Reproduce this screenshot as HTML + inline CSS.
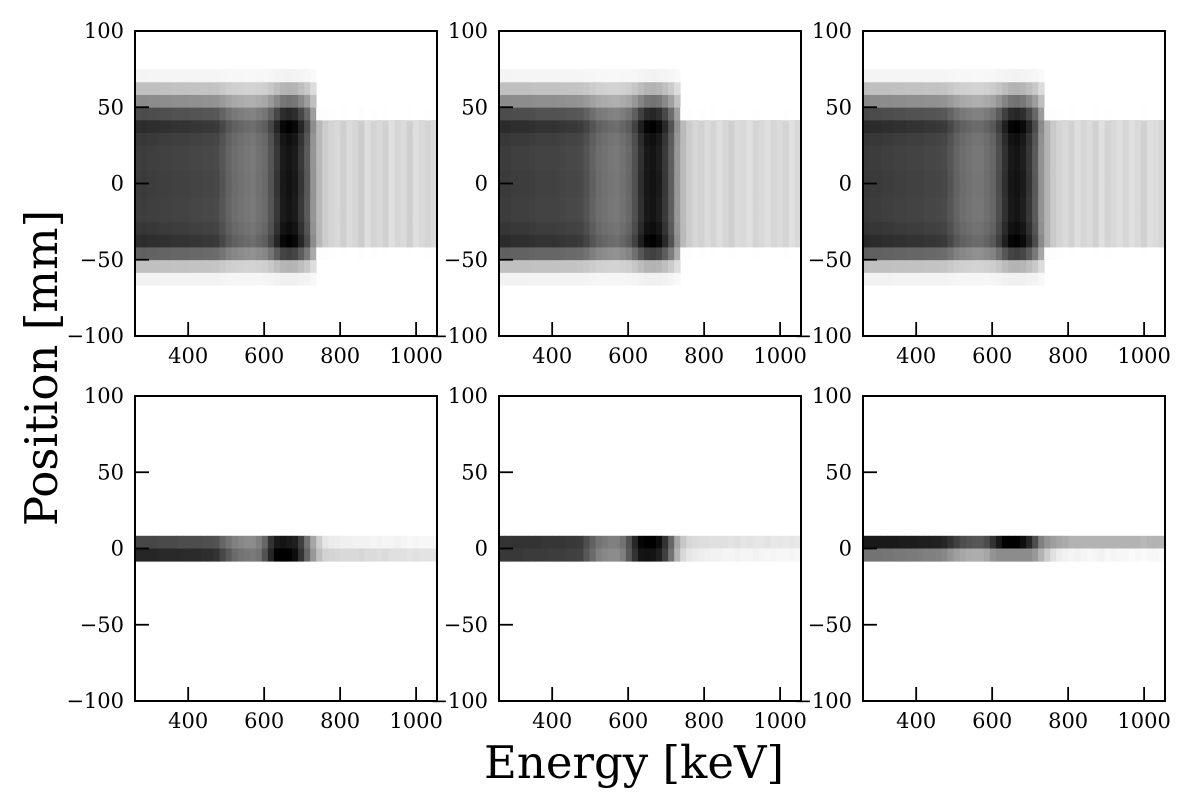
<!DOCTYPE html>
<html><head><meta charset="utf-8"><style>
body{margin:0;background:#fff;}
svg{display:block;font-family:"DejaVu Serif","Liberation Serif",serif;}
</style></head><body>
<svg id="fig" width="1196" height="809" viewBox="0 0 1196 809">
<text x="634" y="778" font-size="45" text-anchor="middle">Energy [keV]</text>
<text transform="translate(57,368) rotate(-90)" font-size="45" text-anchor="middle">Position [mm]</text>
</svg>
<script>
const xTicks=[400,600,800,1000];
const yTicks=[-100,-50,0,50,100];
const E0=260,E1=1055,NB=50;
// top-row energy spectra (darkness 0..1 per energy bin)
const specTop1=[0.82,0.83,0.82,0.82,0.81,0.81,0.8,0.8,0.8,0.79,0.79,0.78,0.78,0.77,0.72,0.66,0.62,0.6,0.58,0.57,0.6,0.63,0.72,0.85,0.97,1.0,0.97,0.85,0.7,0.45,0.28,0.2,0.17,0.15,0.19,0.14,0.16,0.2,0.13,0.17,0.15,0.18,0.12,0.16,0.14,0.19,0.13,0.15,0.17,0.14];
const specTop2=[0.83,0.83,0.82,0.82,0.82,0.81,0.8,0.8,0.8,0.8,0.79,0.78,0.78,0.77,0.73,0.67,0.62,0.6,0.58,0.57,0.6,0.64,0.74,0.88,0.98,1.0,0.96,0.84,0.68,0.44,0.27,0.2,0.16,0.18,0.14,0.17,0.13,0.16,0.19,0.14,0.15,0.12,0.17,0.15,0.13,0.16,0.14,0.17,0.12,0.15];
const specTop3=[0.84,0.83,0.83,0.82,0.82,0.81,0.81,0.8,0.8,0.8,0.79,0.79,0.78,0.77,0.72,0.66,0.62,0.6,0.58,0.58,0.61,0.65,0.75,0.88,0.98,1.0,0.96,0.85,0.7,0.46,0.3,0.21,0.17,0.15,0.18,0.13,0.16,0.14,0.18,0.12,0.17,0.15,0.13,0.16,0.12,0.15,0.18,0.13,0.14,0.16];
// top-row position profiles, 24 bins from -100 to 100 (bottom to top)
const profLow=[0,0,0,0,0.06,0.3,0.75,1.0,0.95,0.92,0.92,0.93,0.93,0.92,0.92,0.94,1.0,0.85,0.55,0.3,0.05,0,0,0];
const profHigh=[0,0,0,0,0,0,0.03,1,1,1,1,1,1,1,1,1,1,0.03,0,0,0,0,0,0];
// bottom-row spectra: upper row (0..8.3 mm) and lower row (-8.3..0 mm)
const botUp1=[0.72,0.72,0.72,0.72,0.71,0.71,0.71,0.7,0.7,0.7,0.7,0.69,0.69,0.68,0.6,0.55,0.5,0.47,0.45,0.45,0.5,0.6,0.8,0.9,0.92,0.9,0.88,0.75,0.55,0.35,0.2,0.1,0.08,0.07,0.06,0.06,0.05,0.05,0.05,0.04,0.05,0.04,0.04,0.05,0.04,0.03,0.04,0.03,0.03,0.03];
const botLo1=[0.85,0.85,0.85,0.85,0.84,0.84,0.84,0.84,0.83,0.83,0.83,0.82,0.82,0.8,0.72,0.65,0.58,0.55,0.53,0.52,0.55,0.68,0.85,1.0,1.0,1.0,0.95,0.8,0.6,0.4,0.25,0.18,0.17,0.16,0.15,0.15,0.15,0.16,0.14,0.14,0.13,0.14,0.12,0.12,0.12,0.11,0.12,0.11,0.11,0.11];
const botUp2=[0.8,0.8,0.8,0.8,0.8,0.8,0.8,0.79,0.79,0.79,0.79,0.78,0.78,0.77,0.7,0.62,0.55,0.52,0.5,0.5,0.55,0.68,0.85,0.98,1.0,1.0,0.95,0.8,0.6,0.35,0.22,0.16,0.14,0.13,0.13,0.12,0.12,0.12,0.11,0.12,0.1,0.11,0.1,0.1,0.11,0.09,0.1,0.09,0.1,0.09];
const botLo2=[0.78,0.78,0.78,0.78,0.77,0.77,0.77,0.77,0.76,0.76,0.76,0.75,0.75,0.74,0.66,0.58,0.5,0.47,0.45,0.45,0.5,0.65,0.8,0.92,0.93,0.92,0.88,0.75,0.55,0.3,0.15,0.1,0.08,0.07,0.06,0.05,0.05,0.04,0.04,0.05,0.04,0.04,0.05,0.04,0.03,0.04,0.03,0.03,0.04,0.03];
const botUp3=[0.9,0.9,0.9,0.9,0.9,0.9,0.89,0.89,0.89,0.88,0.88,0.88,0.87,0.85,0.8,0.75,0.7,0.68,0.66,0.66,0.7,0.8,0.9,1.0,1.0,1.0,0.95,0.85,0.7,0.5,0.42,0.38,0.35,0.33,0.3,0.3,0.3,0.3,0.3,0.3,0.3,0.3,0.3,0.3,0.3,0.3,0.28,0.3,0.3,0.3];
const botLo3=[0.55,0.55,0.55,0.54,0.54,0.53,0.53,0.52,0.52,0.51,0.5,0.5,0.49,0.47,0.42,0.38,0.35,0.33,0.32,0.32,0.35,0.42,0.45,0.45,0.45,0.45,0.45,0.45,0.4,0.3,0.2,0.12,0.07,0.05,0.04,0.05,0.04,0.03,0.04,0.05,0.03,0.04,0.03,0.03,0.02,0.03,0.02,0.03,0.03,0.02];

const NS='http://www.w3.org/2000/svg';
const svg=document.getElementById('fig');
const W=302,H=305;
const lefts=[135,499,863],tops=[31,396];
function mk(tag,attrs,parent){const e=document.createElementNS(NS,tag);for(const k in attrs)e.setAttribute(k,attrs[k]);(parent||svg).appendChild(e);return e;}
function xs(L,E){return L+(E-E0)*W/(E1-E0);}
function ys(T,y){return T+(100-y)*H/200;}
function gray(v){v=Math.max(0,Math.min(1,v));const g=Math.round(255*(1-v));return `rgb(${g},${g},${g})`;}
const bw=(E1-E0)/NB, bh=200/24;
function cell(g,L,T,i,j,v){
  if(v<=0.005)return;
  const e0=E0+i*bw,y0=-100+j*bh;
  const r=mk('rect',{x:xs(L,e0).toFixed(2),y:ys(T,y0+bh).toFixed(2),width:(bw*W/(E1-E0)+0.4).toFixed(2),height:(bh*H/200+0.4).toFixed(2),fill:gray(v)},g);
  
  
}
function axes(L,T,name){
  const g=mk('g',{});
  
  
  mk('rect',{x:L,y:T,width:W,height:H,fill:'none',stroke:'#000','stroke-width':2},g);
  xTicks.forEach(t=>{const x=xs(L,t);
    mk('line',{x1:x,y1:T+H,x2:x,y2:T+H-14,stroke:'#000','stroke-width':1.8},g);
    const tx=mk('text',{x:x,y:T+H+27,'font-size':21,'text-anchor':'middle'},g);tx.textContent=t;
    
    });
  yTicks.forEach(t=>{const y=ys(T,t);
    mk('line',{x1:L,y1:y,x2:L+14,y2:y,stroke:'#000','stroke-width':1.8},g);
    const tx=mk('text',{x:L-11,y:y+7,'font-size':21,'text-anchor':'end'},g);tx.textContent=(t<0?'\u2212'+(-t):t);
    
    });
}
const topSpecs=[specTop1,specTop2,specTop3];
const bots=[[botUp1,botLo1],[botUp2,botLo2],[botUp3,botLo3]];
for(let p=0;p<3;p++){
  const L=lefts[p];
  const g1=mk('g',{});
  
  
  for(let i=0;i<NB;i++){const ec=E0+(i+0.5)*bw;const prof=ec<740?profLow:profHigh;
    for(let j=0;j<24;j++)cell(g1,L,tops[0],i,j,topSpecs[p][i]*prof[j]);}
  const g2=mk('g',{});
  
  
  for(let i=0;i<NB;i++){cell(g2,L,tops[1],i,12,bots[p][0][i]);cell(g2,L,tops[1],i,11,bots[p][1][i]);}
}
for(let p=0;p<3;p++){axes(lefts[p],tops[0],'top-'+(p+1));axes(lefts[p],tops[1],'bottom-'+(p+1));}
</script>
</body></html>
